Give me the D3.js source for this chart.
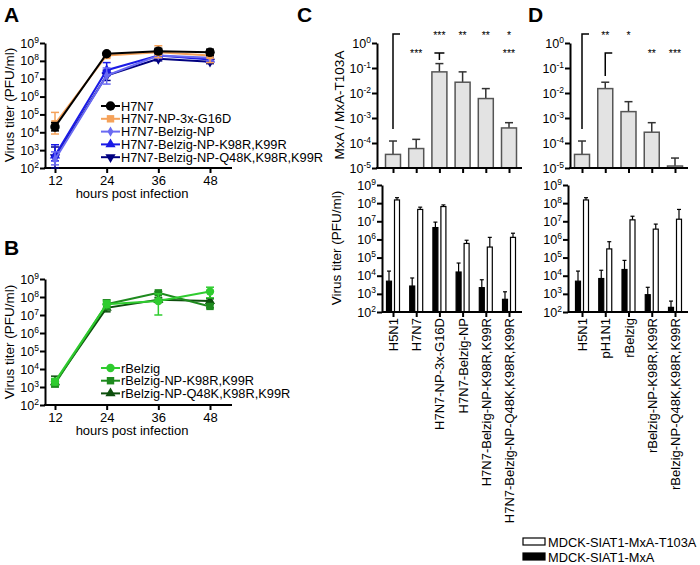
<!DOCTYPE html>
<html><head><meta charset="utf-8">
<script src="https://cdn.jsdelivr.net/npm/d3@7"></script>
<style>body{margin:0;background:#fff}svg{font-family:"Liberation Sans",Arial,sans-serif}</style>
</head><body><svg id="c" width="700" height="565"></svg>
<script>
// ---------- DATA ----------
const hours = [12, 24, 36, 48];
const seriesA = ["H7N7-Belzig-NP-Q48K,K98R,K99R","H7N7-Belzig-NP-K98R,K99R","H7N7-Belzig-NP","H7N7-NP-3x-G16D","H7N7"];
const valsA_H7N7 = [2e4, 2.5e8, 3.5e8, 3e8];
const loA_H7N7 = [1.2e4, 2e8, 2.5e8, 2e8];
const hiA_H7N7 = [3.5e4, 3e8, 5e8, 4.5e8];
const valsA_G16D = [3e4, 2e8, 3e8, 2e8];
const loA_G16D = [8e3, 1.5e8, 1.5e8, 8e7];
const hiA_G16D = [1.3e5, 2.7e8, 7e8, 3e8];
const valsA_BNP = [3e2, 1.5e7, 2e8, 1.5e8];
const loA_BNP = [1.5e2, 5e6, 1.5e8, 1e8];
const hiA_BNP = [8e2, 4e7, 2.5e8, 2e8];
const valsA_K98 = [5e2, 3e7, 2e8, 1.2e8];
const loA_K98 = [2.5e2, 1.5e7, 1.5e8, 9e7];
const hiA_K98 = [2e3, 8e7, 2.5e8, 1.6e8];
const valsA_Q48 = [4e2, 1.5e7, 1.3e8, 9e7];
const loA_Q48 = [1e2, 8e6, 1e8, 7e7];
const hiA_Q48 = [1.5e3, 3e7, 1.8e8, 1.2e8];

const seriesB = ["rBelzig-NP-Q48K,K98R,K99R","rBelzig-NP-K98R,K99R","rBelzig"];
const valsB_rB = [2e3, 4e7, 6e7, 2e8];
const loB_rB = [1.3e3, 2.5e7, 1e7, 9e7];
const hiB_rB = [3e3, 6e7, 1.5e8, 3.5e8];
const valsB_K98 = [1.5e3, 4e7, 1.7e8, 3e7];
const loB_K98 = [1e3, 2e7, 1.4e8, 2.5e7];
const hiB_K98 = [2.5e3, 7e7, 2e8, 4e7];
const valsB_Q48 = [1.8e3, 2.5e7, 7e7, 6e7];
const loB_Q48 = [1.2e3, 1.5e7, 5e7, 4.5e7];
const hiB_Q48 = [4e3, 4e7, 9e7, 8e7];

const catsC = ["H5N1","H7N7","H7N7-NP-3x-G16D","H7N7-Belzig-NP","H7N7-Belzig-NP-K98R,K99R","H7N7-Belzig-NP-Q48K,K98R,K99R"];
const ratioC = [3.5e-5, 6e-5, 7e-2, 2.7e-2, 6e-3, 4e-4];
const ratioC_err = [1.2e-4, 1.4e-4, 1.5e-1, 7e-2, 1.5e-2, 6.5e-4];
const mxaC = [5e3, 2.7e3, 4.5e6, 1.6e4, 2.2e3, 5e2];
const mxaC_err = [1.8e4, 7.5e3, 9e6, 5e4, 6e3, 1.3e3];
const t103C = [1.5e8, 4.5e7, 6.5e7, 6e5, 3.8e5, 1.3e6];
const t103C_err = [2e8, 6e7, 8e7, 9e5, 1.3e6, 2.2e6];
const starsC_top = ["", "", "***", "**", "**", "*"];
const starsC_low = ["", "***", "", "", "", "***"];

const catsD = ["H5N1","pH1N1","rBelzig","rBelzig-NP-K98R,K99R","rBelzig-NP-Q48K,K98R,K99R"];
const ratioD = [3.5e-5, 1.5e-2, 1.8e-3, 2.7e-4, 1.2e-5];
const ratioD_err = [1.2e-4, 2.7e-2, 4.5e-3, 6.5e-4, 2.5e-5];
const mxaD = [5e3, 7e3, 2.2e4, 9e2, 1.8e2];
const mxaD_err = [1.8e4, 2e4, 7e4, 2.3e3, 4e2];
const t103D = [1.5e8, 3e5, 1.2e7, 3.7e6, 1.3e7];
const t103D_err = [2e8, 7.5e5, 1.9e7, 7e6, 4.5e7];
const starsD_top = ["", "**", "*", "", ""];
const starsD_low = ["", "", "", "**", "***"];

const titerTicks = [1e2,1e3,1e4,1e5,1e6,1e7,1e8,1e9];
const ratioTicks = [1e-5,1e-4,1e-3,1e-2,1e-1,1];
const legendBars = ["MDCK-SIAT1-MxA-T103A","MDCK-SIAT1-MxA"];

// ---------- HELPERS ----------
const svg = d3.select("#c");
const FS = 12.5;

function supLabels(g){
  g.selectAll(".tick text").each(function(d){
    const t = d3.select(this);
    const e = Math.round(Math.log10(d));
    t.text("");
    t.append("tspan").text("10");
    t.append("tspan").attr("dy", -5).attr("font-size", 8.5).text(String(e));
  });
}
function yLogAxis(scale, x, ticks){
  const g = svg.append("g").attr("transform", `translate(${x},0)`)
    .call(d3.axisLeft(scale).tickValues(ticks).tickSize(5).tickSizeOuter(0).tickFormat(d=>d));
  g.select(".domain").attr("stroke","#000").attr("stroke-width",2);
  g.selectAll(".tick line").attr("stroke-width",2);
  g.selectAll(".tick text").attr("font-size",FS).attr("fill","#000").attr("x",-6);
  supLabels(g);
  return g;
}
function yTitle(text, x, y){
  svg.append("text").attr("transform",`translate(${x},${y}) rotate(-90)`)
    .attr("text-anchor","middle").attr("font-size",13.5).text(text);
}

// ---------- PANELS A/B ----------
const xTime = d3.scaleLinear().domain([12,48]).range([55,210]);
function linePanel(top, bot, seriesNames, vals, lo, hi, colors, shapes, legendY, legendSp){
  const y = d3.scaleLog().domain([1e2,1e9]).range([bot, top]);
  yLogAxis(y, 45, titerTicks);
  const gx = svg.append("g").attr("transform",`translate(0,${bot})`)
    .call(d3.axisBottom(xTime).tickValues(hours).tickSize(5).tickSizeOuter(0));
  gx.select(".domain").remove();
  gx.selectAll(".tick line").attr("stroke-width",2);
  gx.selectAll(".tick text").attr("font-size",13).attr("fill","#000").attr("dy","0.7em");
  svg.append("line").attr("x1",44).attr("x2",232).attr("y1",bot).attr("y2",bot).attr("stroke","#000").attr("stroke-width",2);
  svg.append("text").attr("x",132).attr("y",bot+30).attr("text-anchor","middle").attr("font-size",13).text("hours post infection");
  const line = d3.line().x((d,i)=>xTime(hours[i])).y(d=>y(d));
  seriesNames.forEach((name,k)=>{
    const col = colors[k];
    const g = svg.append("g");
    hours.forEach((h,i)=>{
      const xx = xTime(h);
      g.append("line").attr("x1",xx).attr("x2",xx).attr("y1",y(lo[k][i])).attr("y2",y(hi[k][i])).attr("stroke",col).attr("stroke-width",1.5);
      [lo[k][i],hi[k][i]].forEach(v=>g.append("line").attr("x1",xx-4).attr("x2",xx+4).attr("y1",y(v)).attr("y2",y(v)).attr("stroke",col).attr("stroke-width",1.5));
    });
    g.append("path").attr("d",line(vals[k])).attr("fill","none").attr("stroke",col).attr("stroke-width",2);
    vals[k].forEach((v,i)=>{
      g.append("path").attr("d",d3.symbol().type(shapes[k].t).size(shapes[k].s)())
        .attr("transform",`translate(${xTime(hours[i])},${y(v)})${shapes[k].r||""}`).attr("fill",col);
    });
  });
  const order = seriesNames.map((d,i)=>i).reverse();
  order.forEach((k,j)=>{
    const ly = legendY + j*legendSp;
    svg.append("line").attr("x1",101).attr("x2",120).attr("y1",ly).attr("y2",ly).attr("stroke",colors[k]).attr("stroke-width",2);
    svg.append("path").attr("d",d3.symbol().type(shapes[k].t).size(shapes[k].s)())
      .attr("transform",`translate(110.5,${ly})${shapes[k].r||""}`).attr("fill",colors[k]);
    svg.append("text").attr("x",121).attr("y",ly+4.5).attr("font-size",12.8).text(seriesNames[k]);
  });
  return y;
}
linePanel(43,168,seriesA,
  [valsA_Q48,valsA_K98,valsA_BNP,valsA_G16D,valsA_H7N7],
  [loA_Q48,loA_K98,loA_BNP,loA_G16D,loA_H7N7],
  [hiA_Q48,hiA_K98,hiA_BNP,hiA_G16D,hiA_H7N7],
  ["#000080","#1a1ae6","#6a6af2","#f5a25a","#000000"],
  [{t:d3.symbolTriangle,s:45,r:" rotate(180)"},{t:d3.symbolTriangle,s:45},{t:d3.symbolDiamond,s:30},{t:d3.symbolSquare,s:55},{t:d3.symbolCircle,s:70}],
  106,12.8);
linePanel(279,405,seriesB,
  [valsB_Q48,valsB_K98,valsB_rB],
  [loB_Q48,loB_K98,loB_rB],
  [hiB_Q48,hiB_K98,hiB_rB],
  ["#0d4f0d","#1e8a1e","#2fcc2f"],
  [{t:d3.symbolTriangle,s:45},{t:d3.symbolSquare,s:55},{t:d3.symbolCircle,s:55}],
  368,12.7);
yTitle("Virus titer (PFU/ml)",14,105);
yTitle("Virus titer (PFU/ml)",14,342);

// ---------- PANELS C/D ----------
function barPanel(cats, axXt, axXb, x0, x1, axEnd, ratio, ratioErr, mxa, mxaErr, t103, t103Err, starsTop, starsLow){
  const x = d3.scalePoint().domain(cats).range([x0,x1]);
  const yT = d3.scaleLog().domain([1e-5,1]).range([168,43]);
  const yB = d3.scaleLog().domain([1e2,1e9]).range([312,185]);
  cats.forEach((c,i)=>{
    const cx = x(c);
    svg.append("line").attr("x1",cx).attr("x2",cx).attr("y1",yT(ratio[i])).attr("y2",yT(ratioErr[i])).attr("stroke","#333").attr("stroke-width",1.5);
    svg.append("line").attr("x1",cx-4).attr("x2",cx+4).attr("y1",yT(ratioErr[i])).attr("y2",yT(ratioErr[i])).attr("stroke","#333").attr("stroke-width",1.5);
    svg.append("rect").attr("x",cx-7.5).attr("width",15).attr("y",yT(ratio[i])).attr("height",168-yT(ratio[i]))
      .attr("fill","#e3e3e3").attr("stroke","#555").attr("stroke-width",1.5);
    svg.append("text").attr("x",cx).attr("y",39).attr("text-anchor","middle").attr("font-size",10.5).attr("fill","#000").text(starsTop[i]);
    svg.append("text").attr("x",cx).attr("y",57).attr("text-anchor","middle").attr("font-size",10.5).attr("fill","#000").text(starsLow[i]);
  });
  yLogAxis(yT, axXt, ratioTicks);
  const gxt = svg.append("g").attr("transform","translate(0,168)")
    .call(d3.axisBottom(x).tickSize(5).tickSizeOuter(0).tickFormat(""));
  gxt.select(".domain").remove();
  gxt.selectAll(".tick line").attr("stroke-width",2);
  svg.append("line").attr("x1",axXt-1).attr("x2",axEnd).attr("y1",168).attr("y2",168).attr("stroke","#000").attr("stroke-width",2);
  const c0 = x(cats[0]);
  svg.append("path").attr("d",`M${c0+7},34H${c0}V${yT(ratioErr[0])-12}`).attr("fill","none").attr("stroke","#000").attr("stroke-width",1.5);
  cats.forEach((c,i)=>{
    const cx = x(c);
    [[mxa,mxaErr,cx-6.5,"#000"],[t103,t103Err,cx+1.5,"#fff"]].forEach(([v,e,bx,fill])=>{
      svg.append("line").attr("x1",bx+2.5).attr("x2",bx+2.5).attr("y1",yB(v[i])).attr("y2",yB(e[i])).attr("stroke","#000").attr("stroke-width",1.2);
      svg.append("line").attr("x1",bx+0.5).attr("x2",bx+4.5).attr("y1",yB(e[i])).attr("y2",yB(e[i])).attr("stroke","#000").attr("stroke-width",1.2);
      svg.append("rect").attr("x",bx).attr("width",5).attr("y",yB(v[i])).attr("height",312-yB(v[i]))
        .attr("fill",fill).attr("stroke","#000").attr("stroke-width",1.2);
    });
  });
  yLogAxis(yB, axXb, titerTicks);
  const gxb = svg.append("g").attr("transform","translate(0,312)")
    .call(d3.axisBottom(x).tickSize(5).tickSizeOuter(0));
  gxb.select(".domain").remove();
  gxb.selectAll(".tick line").attr("stroke-width",2);
  gxb.selectAll(".tick text").attr("font-size",FS+0.5).attr("fill","#000")
    .attr("text-anchor","end").attr("transform","translate(0,6) rotate(-90)").attr("x",0).attr("y",0).attr("dy","0.35em");
  svg.append("line").attr("x1",axXb).attr("x2",axEnd).attr("y1",312).attr("y2",312).attr("stroke","#000").attr("stroke-width",2);
  return {x,yT};
}
const C = barPanel(catsC, 377, 382, 393, 509, 522, ratioC, ratioC_err, mxaC, mxaC_err, t103C, t103C_err, starsC_top, starsC_low);
{
  const cx = C.x(catsC[2]);
  svg.append("path").attr("d",`M${cx-5},53H${cx+5}M${cx},53V60`).attr("fill","none").attr("stroke","#000").attr("stroke-width",1.5);
}
const D = barPanel(catsD, 570, 568, 582, 675, 688, ratioD, ratioD_err, mxaD, mxaD_err, t103D, t103D_err, starsD_top, starsD_low);
{
  const cx = D.x(catsD[1]);
  svg.append("path").attr("d",`M${cx+7},53H${cx}V76`).attr("fill","none").attr("stroke","#000").attr("stroke-width",1.5);
}
yTitle("MxA / MxA-T103A",344,105);
yTitle("Virus titer (PFU/ml)",341,248);

legendBars.forEach((name,i)=>{
  const ly = 538 + i*15;
  svg.append("rect").attr("x",523).attr("y",ly).attr("width",22).attr("height",7)
    .attr("fill", i===0?"#fff":"#000").attr("stroke","#000").attr("stroke-width",1.2);
  svg.append("text").attr("x",548).attr("y",ly+8.5).attr("font-size",12.8).text(name);
});

[["A",4,22],["B",4,255],["C",297,22],["D",528,22]].forEach(([t,x,y])=>{
  svg.append("text").attr("x",x).attr("y",y).attr("font-size",21).attr("font-weight","bold").text(t);
});
</script></body></html>
